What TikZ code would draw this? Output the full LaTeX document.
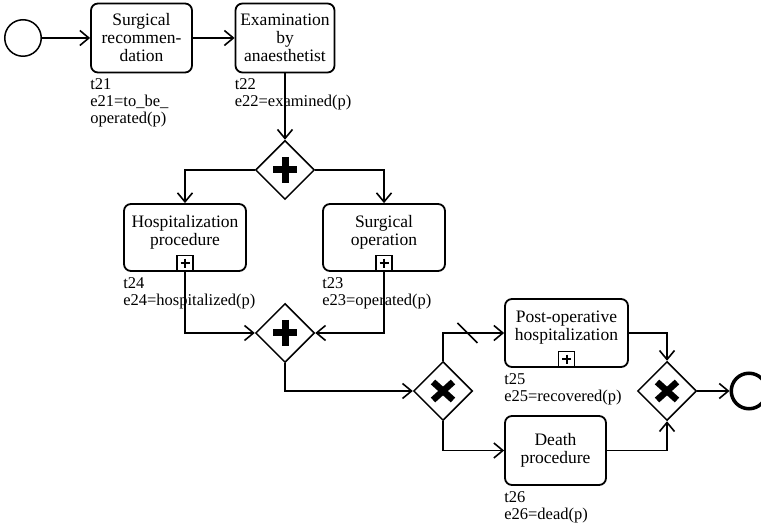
\documentclass[tikz,border=0pt]{standalone}
\usepackage{fontspec}
\setmainfont{Liberation Serif}
\usetikzlibrary{arrows.meta,calc,positioning,shapes.geometric}

\begin{document}
\begin{tikzpicture}[x=1pt,y=-1pt,>={Straight Barb[length=9pt,width=15pt]},
  font=\fontsize{16.5}{17}\selectfont,
  task/.style={draw,line width=1.8pt,rounded corners=7pt,align=center,inner sep=0pt,
    font=\fontsize{17.5}{18}\selectfont},
  gate/.style={draw,diamond,line width=1.5pt,minimum width=59,minimum height=59,inner sep=0pt},
  flow/.style={->,line width=1.6pt},
  lbl/.style={align=left,inner sep=0pt},
  subproc/.style={draw,line width=1.3pt,minimum size=16,inner sep=0pt,anchor=south}]
\useasboundingbox (0,0) rectangle (761,526);

% events and tasks
\node[draw,circle,line width=1.5pt,minimum size=36.5] (start) at (23,38) {};
\node[task,minimum width=101,minimum height=69] (t21) at (141.5,38) {Surgical\\recommen-\\dation};
\node[task,minimum width=99,minimum height=69] (t22) at (285,38) {Examination\\by\\anaesthetist};
\node[gate] (g1) at (285,170) {};
\node[task,minimum width=122,minimum height=67] (t24) at (185,237.5) {Hospitalization\\procedure\\[-4pt]\mbox{}};
\node[task,minimum width=122,minimum height=67] (t23) at (384,237.5) {Surgical\\operation\\[-4pt]\mbox{}};
\node[gate] (g2) at (285,333) {};
\node[gate] (g3) at (443,391) {};
\node[task,minimum width=123,minimum height=68] (t25) at (566.5,333) {Post-operative\\hospitalization\\[-4pt]\mbox{}};
\node[task,minimum width=101,minimum height=69] (t26) at (555.5,450.5) {Death\\procedure};
\node[gate] (g4) at (667,391) {};
\node[draw,circle,line width=3.5pt,minimum size=35.5] (endev) at (749,391) {};

% labels
\node[lbl,below right=5pt and 0pt of t21.south west] (l21) {t21\\e21=to\_be\_\\operated(p)};
\node[lbl,below right=5pt and 0pt of t22.south west] (l22) {t22\\e22=examined(p)};
\node[lbl,below right=5pt and 0pt of t24.south west] (l24) {t24\\e24=hospitalized(p)};
\node[lbl,below right=5pt and 0pt of t23.south west] (l23) {t23\\e23=operated(p)};
\node[lbl,below right=5pt and 0pt of t25.south west] (l25) {t25\\e25=recovered(p)};
\node[lbl,below right=5pt and 0pt of t26.south west] (l26) {t26\\e26=dead(p)};

% markers
\foreach \g in {g1,g2}
  \draw[line width=7pt] (\g.center) +(-12,0) -- +(12,0) (\g.center) +(0,-13) -- +(0,13);
\foreach \g in {g3,g4}
  \draw[line width=6.5pt] (\g.center) +(-10,-9) -- +(10,9) (\g.center) +(-10,9) -- +(10,-9);
\foreach \tk in {t24,t23,t25} {
  \node[subproc] (\tk mk) at (\tk.south) {};
  \draw[line width=2pt] (\tk mk.center) +(-4.5,0) -- +(4.5,0) (\tk mk.center) +(0,-4.5) -- +(0,4.5);
}

% flows
\draw[flow] (start) -- (t21);
\draw[flow] (t21) -- (t22);
\draw[flow] (t22) -- (g1);
\draw[flow] (g1.west) -| (t24.north);
\draw[flow] (g1.east) -| (t23.north);
\draw[flow] (t24.south) |- (g2.west);
\draw[flow] (t23.south) |- (g2.east);
\draw[flow] (g2.south) |- (g3.west);
\draw[flow] (g3.north) |- (t25.west);
\draw[flow] (g3.south) |- (t26.west);
\draw[flow] (t25.east) -| (g4.north);
\draw[flow] (t26.east) -| (g4.south);
\draw[flow] (g4) -- (endev);
\draw[line width=1.6pt] ($(g3.north |- t25.west)!0.4!(t25.west)$) +(-10,-10) -- +(10,10);
\end{tikzpicture}
\end{document}
